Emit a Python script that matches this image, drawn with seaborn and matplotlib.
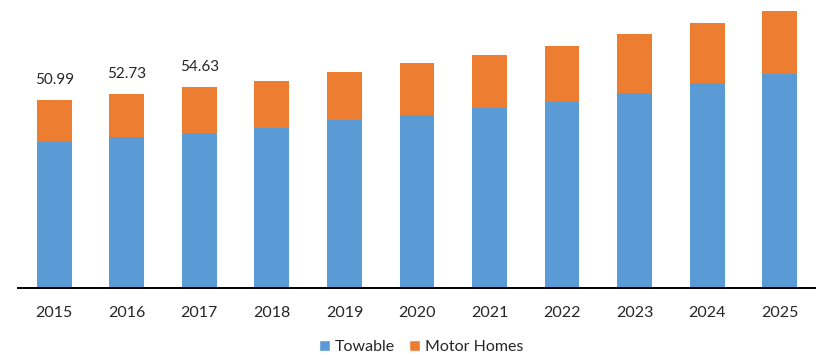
import numpy as np
import pandas as pd
import seaborn as sns
import matplotlib.pyplot as plt
from matplotlib.patches import Patch

# Dane
years = ["2015", "2016", "2017", "2018", "2019", "2020", "2021", "2022", "2023", "2024", "2025"]
towable = [39.7, 41.0, 42.1, 43.5, 45.7, 47.0, 48.9, 50.5, 53.0, 55.7, 58.2]
motor_homes = [11.29, 11.73, 12.53, 12.8, 13.0, 14.1, 14.4, 15.3, 16.0, 16.3, 17.1]
total_labels = ["50.99", "52.73", "54.63"]

sns.set_style("white")
plt.rcParams["font.family"] = ["Lato", "DejaVu Sans"]

blue = "#5B9BD5"
orange = "#ED7D31"

df = pd.DataFrame({"Year": years, "Towable": towable, "Motor Homes": motor_homes})
df["Total"] = df["Towable"] + df["Motor Homes"]

fig = plt.figure(figsize=(8.16, 3.55), dpi=100)
ax = fig.add_axes([0.022, 0.189, 0.978, 0.811])

# Słupki skumulowane: najpierw suma (pomarańczowy), potem Towable (niebieski)
sns.barplot(data=df, x="Year", y="Total", color=orange, width=0.48,
            saturation=1, linewidth=0, ax=ax)
sns.barplot(data=df, x="Year", y="Towable", color=blue, width=0.48,
            saturation=1, linewidth=0, ax=ax)

# Etykiety wartości nad pierwszymi słupkami
for i, lab in enumerate(total_labels):
    ax.annotate(lab, xy=(i, df["Total"].iloc[i]), xytext=(0, 9.5),
                textcoords="offset points", ha="center", va="bottom",
                fontsize=11, color="#262626")

ax.set_xlim(-0.5, 10.5)
ax.set_ylim(0, 78.3)
ax.set_xlabel("")
ax.set_ylabel("")
ax.set_yticks([])
ax.tick_params(axis="x", length=0, pad=13, labelsize=11.5, colors="#262626")

for side in ["left", "right", "top"]:
    ax.spines[side].set_visible(False)
ax.spines["bottom"].set_color("black")
ax.spines["bottom"].set_linewidth(1.4)

handles = [Patch(facecolor=blue, label="Towable"),
           Patch(facecolor=orange, label="Motor Homes")]
fig.legend(handles=handles, loc="center", bbox_to_anchor=(0.516, 0.022),
           ncol=2, frameon=False, fontsize=11.5, handlelength=0.7,
           handleheight=0.7, handletextpad=0.3, columnspacing=0.9)

plt.savefig("out.png", dpi=100)
